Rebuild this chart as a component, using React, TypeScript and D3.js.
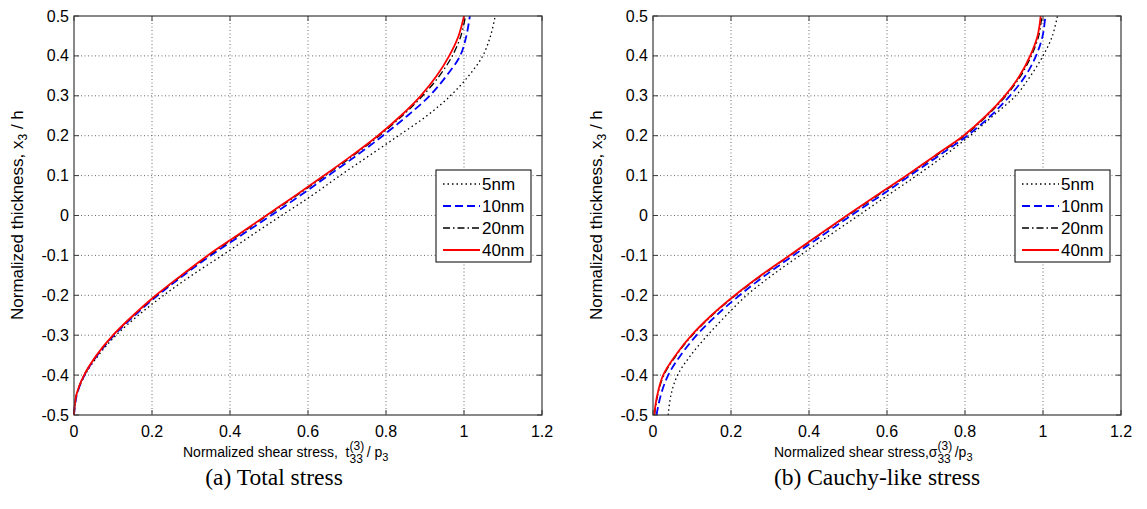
import React from 'react';
import * as d3 from 'd3';

// normalized thickness x3/h, sampled every 0.05
const thickness = [-0.5, -0.45, -0.4, -0.35, -0.3, -0.25, -0.2, -0.15, -0.1, -0.05, 0, 0.05, 0.1, 0.15, 0.2, 0.25, 0.3, 0.35, 0.4, 0.45, 0.5];

const sizes = ['5nm', '10nm', '20nm', '40nm'];

// (a) total stress t33 / p3
const total5nm = [0, 0.007, 0.028, 0.063, 0.108, 0.165, 0.23, 0.302, 0.38, 0.455, 0.532, 0.61, 0.682, 0.757, 0.832, 0.905, 0.965, 1.012, 1.048, 1.068, 1.08];
const total10nm = [0, 0.007, 0.027, 0.06, 0.103, 0.156, 0.215, 0.281, 0.351, 0.428, 0.505, 0.58, 0.652, 0.724, 0.792, 0.855, 0.912, 0.955, 0.99, 1.006, 1.015];
const total20nm = [0, 0.006, 0.026, 0.059, 0.101, 0.153, 0.212, 0.277, 0.346, 0.421, 0.496, 0.571, 0.644, 0.716, 0.783, 0.842, 0.894, 0.937, 0.97, 0.992, 1.004];
const total40nm = [0, 0.006, 0.026, 0.058, 0.1, 0.152, 0.21, 0.275, 0.343, 0.418, 0.493, 0.568, 0.641, 0.712, 0.779, 0.838, 0.889, 0.93, 0.962, 0.986, 1.0];

// (b) cauchy-like stress sigma33 / p3
const cauchy5nm = [0.039, 0.046, 0.063, 0.097, 0.14, 0.188, 0.24, 0.305, 0.377, 0.452, 0.527, 0.601, 0.676, 0.747, 0.813, 0.872, 0.93, 0.968, 1.0, 1.024, 1.037];
const cauchy10nm = [0.009, 0.02, 0.039, 0.071, 0.112, 0.163, 0.222, 0.288, 0.36, 0.434, 0.508, 0.584, 0.659, 0.733, 0.806, 0.866, 0.915, 0.955, 0.982, 0.999, 1.006];
const cauchy20nm = [0.004, 0.012, 0.028, 0.06, 0.101, 0.152, 0.212, 0.279, 0.352, 0.425, 0.5, 0.576, 0.652, 0.726, 0.799, 0.857, 0.905, 0.943, 0.97, 0.989, 0.997];
const cauchy40nm = [0.003, 0.011, 0.026, 0.058, 0.099, 0.15, 0.21, 0.277, 0.35, 0.423, 0.497, 0.573, 0.65, 0.723, 0.796, 0.854, 0.902, 0.94, 0.967, 0.986, 0.994];

const xTicks = [0, 0.2, 0.4, 0.6, 0.8, 1, 1.2];
const yTicks = [-0.5, -0.4, -0.3, -0.2, -0.1, 0, 0.1, 0.2, 0.3, 0.4, 0.5];

const styles = [
  { color: '#000', dash: '1.5,3', width: 1.3 },
  { color: '#0000ff', dash: '8,4', width: 1.8 },
  { color: '#000', dash: '7,3,1.5,3', width: 1.3 },
  { color: '#ff0000', dash: null, width: 1.8 },
];

const panels = [
  { left: 74, series: [total5nm, total10nm, total20nm, total40nm], label: 't', caption: '(a) Total stress', labelX: 183, sep: ',  ', after: ' / p', capX: 274 },
  { left: 653, series: [cauchy5nm, cauchy10nm, cauchy20nm, cauchy40nm], label: 'σ', caption: '(b) Cauchy-like stress', labelX: 774, sep: ',', after: ' /p', capX: 877 },
];

const W = 468, TOP = 16, BOTTOM = 415;
const sans = 'Arial, "Liberation Sans", Helvetica, sans-serif';

function Panel({ p }) {
  const x = d3.scaleLinear().domain([0, 1.2]).range([p.left, p.left + W]);
  const y = d3.scaleLinear().domain([-0.5, 0.5]).range([BOTTOM, TOP]);
  const line = d3.line<number>()
    .x(d => x(d))
    .y((_, i) => y(thickness[i]))
    .curve(d3.curveCatmullRom);
  const axisColor = '#3a3a3a';
  const lx = p.left + 362, ly = 170;

  return (
    <g>
      {/* grid */}
      {xTicks.slice(1, -1).map(t => (
        <line key={'gx' + t} x1={x(t)} x2={x(t)} y1={TOP} y2={BOTTOM} stroke="#444" strokeWidth={0.8} strokeDasharray="1,2.5" />
      ))}
      {yTicks.slice(1, -1).map(t => (
        <line key={'gy' + t} x1={x(0)} x2={x(1.2)} y1={y(t)} y2={y(t)} stroke="#444" strokeWidth={0.8} strokeDasharray="1,2.5" />
      ))}
      {/* ticks, inward on all four sides */}
      {xTicks.map(t => (
        <g key={'tx' + t} stroke={axisColor}>
          <line x1={x(t)} x2={x(t)} y1={BOTTOM} y2={BOTTOM - 5} />
          <line x1={x(t)} x2={x(t)} y1={TOP} y2={TOP + 5} />
        </g>
      ))}
      {yTicks.map(t => (
        <g key={'ty' + t} stroke={axisColor}>
          <line x1={x(0)} x2={x(0) + 5} y1={y(t)} y2={y(t)} />
          <line x1={x(1.2)} x2={x(1.2) - 5} y1={y(t)} y2={y(t)} />
        </g>
      ))}
      {/* curves */}
      {p.series.map((s, i) => (
        <path key={'c' + i} d={line(s) || ''} fill="none" stroke={styles[i].color}
          strokeWidth={styles[i].width} strokeDasharray={styles[i].dash || undefined} />
      ))}
      <rect x={x(0)} y={TOP} width={W} height={BOTTOM - TOP} fill="none" stroke={axisColor} strokeWidth={1.2} />
      {/* tick labels */}
      {xTicks.map(t => (
        <text key={'lx' + t} x={x(t)} y={437} textAnchor="middle" fontFamily={sans} fontSize={16}>{String(t)}</text>
      ))}
      {yTicks.map(t => (
        <text key={'ly' + t} x={x(0) - 5} y={y(t) + 5.5} textAnchor="end" fontFamily={sans} fontSize={16}>{String(t)}</text>
      ))}
      {/* y label */}
      <text transform={`translate(${p.left - 51},320) rotate(-90)`} fontFamily={sans} fontSize={17}>
        Normalized thickness, x<tspan dy={4} fontSize={12}>3</tspan><tspan dy={-4}> / h</tspan>
      </text>
      {/* x label */}
      <text x={p.labelX} y={457} fontFamily={sans} fontSize={14} style={{ whiteSpace: 'pre' }}>
        {'Normalized shear stress' + p.sep + p.label}
        <tspan dy={-7} fontSize={12}>(3)</tspan>
        <tspan dx={-14.7} dy={13} fontSize={12}>33</tspan>
        <tspan dy={-6}>{p.after}</tspan>
        <tspan dy={4} fontSize={11}>3</tspan>
      </text>
      {/* caption */}
      <text x={p.capX} y={485} textAnchor="middle" fontFamily='"Liberation Serif", "Times New Roman", serif' fontSize={23.5}>{p.caption}</text>
      {/* legend */}
      <rect x={lx} y={ly} width={95} height={92} fill="#fff" stroke="#000" strokeWidth={1} />
      {sizes.map((name, i) => (
        <g key={'lg' + name}>
          <line x1={lx + 7} x2={lx + 44} y1={ly + 14 + i * 22} y2={ly + 14 + i * 22} stroke={styles[i].color}
            strokeWidth={styles[i].width} strokeDasharray={styles[i].dash || undefined} />
          <text x={lx + 46} y={ly + 20 + i * 22} fontFamily={sans} fontSize={17}>{name}</text>
        </g>
      ))}
    </g>
  );
}

export default function App() {
  return (
    <svg width={1147} height={509} style={{ position: 'absolute', left: 0, top: 0, background: '#fff' }}>
      <rect width={1147} height={509} fill="#fff" />
      {panels.map((p, i) => <Panel key={i} p={p} />)}
    </svg>
  );
}
